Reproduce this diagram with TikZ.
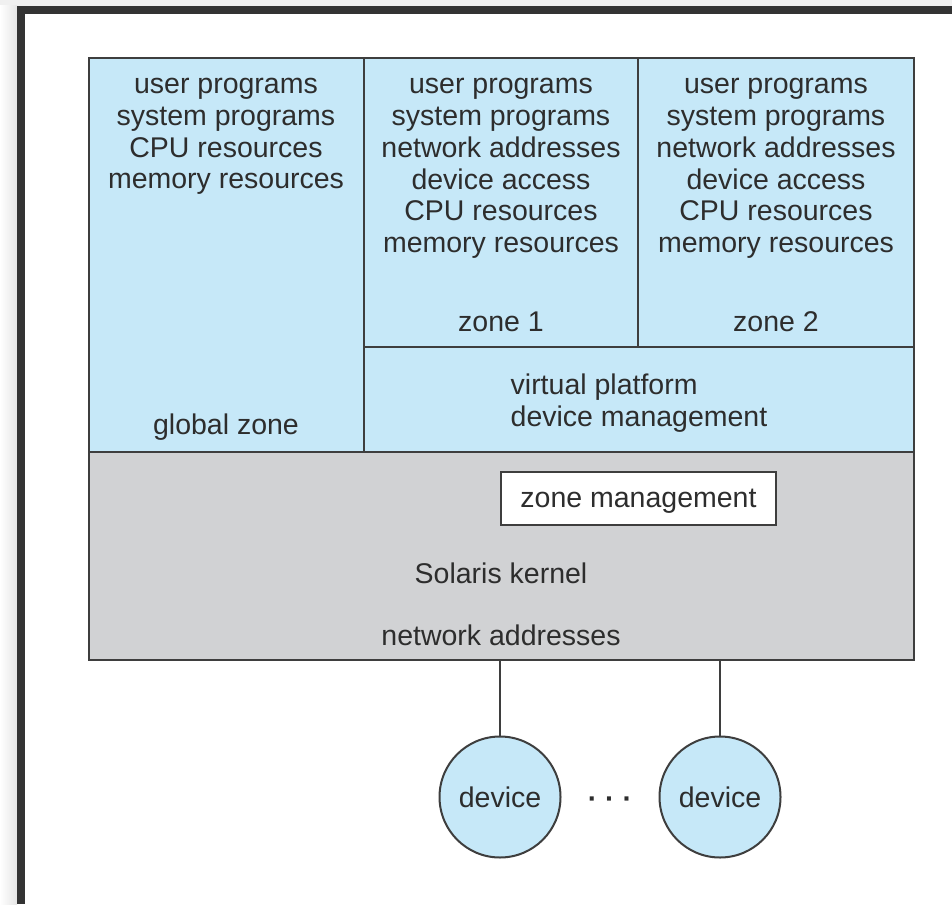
\documentclass[tikz,border=0pt]{standalone}
\usepackage{fontspec}
\setmainfont{Liberation Sans}
\usepackage{tikz}

\definecolor{zoneblue}{RGB}{198,232,248}
\definecolor{kernelgray}{RGB}{209,210,212}
\definecolor{linegray}{RGB}{62,62,62}
\definecolor{textgray}{RGB}{45,45,45}
\definecolor{framegray}{RGB}{51,51,51}

\tikzset{
    box/.style={draw=linegray, line width=1pt},
    lines/.style={align=center, inner sep=0pt},
    device/.style={circle, draw=linegray, line width=1pt, fill=zoneblue, minimum size=60.5pt, inner sep=0pt}
}

\begin{document}
\begin{tikzpicture}[x=0.5pt, y=-0.5pt,
        every node/.style={font=\fontsize{14.25}{15.9}\selectfont, text=textgray}]
        \useasboundingbox (0,0) rectangle (952,904);
        % page and frame
        \fill[white] (0,0) rectangle (952,904);
        \fill[black!6] (0,0) rectangle (952,6);
        \shade[left color=white, right color=black!10] (0,6) rectangle (17,904);
        \fill[framegray] (17,6) rectangle (952,14);
        \fill[framegray] (17,6) rectangle (25,904);

        % zones
        \draw[box, fill=zoneblue] (89,58) rectangle (914,452);
        \draw[box] (364,58) -- (364,452);
        \draw[box] (638,58) -- (638,347);
        \draw[box] (364,347) -- (914,347);
        % kernel
        \draw[box, fill=kernelgray] (89,452) rectangle (914,660);
        \draw[box, fill=white] (501,472) rectangle (776,525);

        \node[lines] (globaltext) at (226,136.5) {user programs\\system programs\\CPU resources\\memory resources};
        \node[lines] (zonetexta) at (501,168.5) {user programs\\system programs\\network addresses\\device access\\CPU resources\\memory resources};
        \node[lines] (zonetextb) at (776,168.5) {user programs\\system programs\\network addresses\\device access\\CPU resources\\memory resources};
        \node (globalzone) at (226,427) {global zone};
        \node (zonea) at (501,322) {zone 1};
        \node (zoneb) at (776,322) {zone 2};
        \node[lines, align=left] (platform) at (639,403) {virtual platform\\device management};
        \node (zonemgmt) at (638.5,501.5) {zone management};
        \node (kernel) at (501,573) {Solaris kernel};
        \node (kerneladdr) at (501,635) {network addresses};

        % devices
        \coordinate (linka) at (500,660);
        \coordinate (linkb) at (720,660);
        \node[device] (deva) at (500,797) {device};
        \node[device] (devb) at (720,797) {device};
        \node[font=\fontsize{14.25}{15.9}\bfseries] (dots) at (610,803) {· · ·};
        \draw[box] (linka) -- (deva);
        \draw[box] (linkb) -- (devb);
    \end{tikzpicture}
\end{document}
